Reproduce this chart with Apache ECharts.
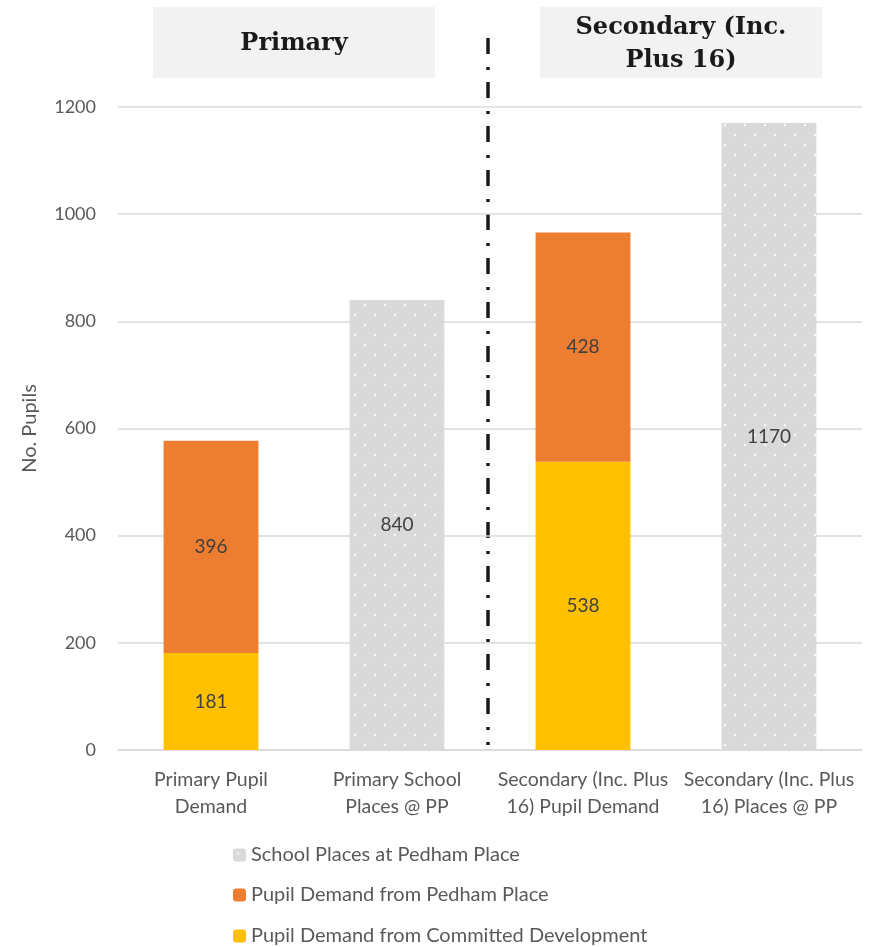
<!DOCTYPE html>
<html lang="en">
<head>
    <meta charset="UTF-8">
    <title>No. Pupils</title>
    <script src="https://cdn.jsdelivr.net/npm/echarts@6/dist/echarts.min.js"></script>
    <style>
        html, body { margin: 0; padding: 0; background: #fff; }
        #chart_main { width: 882px; height: 947px; }
    </style>
</head>
<body>
<div id="chart_main"></div>
<script>
  // 数据
  var categories = ['Primary Pupil\nDemand', 'Primary School\nPlaces @ PP', 'Secondary (Inc. Plus\n16) Pupil Demand', 'Secondary (Inc. Plus\n16) Places @ PP'];
  var committedDev = [181, '-', 538, '-'];
  var pedhamDemand = [396, '-', 428, '-'];
  var schoolPlaces = ['-', 840, '-', 1170];
  var yTicks = [0, 200, 400, 600, 800, 1000, 1200];
  var legendNames = ['School Places at Pedham Place', 'Pupil Demand from Pedham Place', 'Pupil Demand from Committed Development'];

  // 灰色柱子的点状纹理
  function dotPattern() {
    var c = document.createElement('canvas');
    c.width = 20; c.height = 20;
    var ctx = c.getContext('2d');
    ctx.fillStyle = '#d9d9d9';
    ctx.fillRect(0, 0, 20, 20);
    ctx.fillStyle = 'rgba(255,255,255,0.85)';
    ctx.beginPath(); ctx.arc(5, 5, 1.2, 0, Math.PI * 2); ctx.fill();
    ctx.beginPath(); ctx.arc(15, 15, 1.2, 0, Math.PI * 2); ctx.fill();
    return {image: c, repeat: 'repeat'};
  }

  var font = 'Lato, "Open Sans", sans-serif';
  var labelStyle = {show: true, position: 'inside', color: '#404040', fontSize: 19, fontFamily: font};

  // 图例：每项单独一个，竖排
  var legendTops = [840, 880, 921];
  var legends = legendNames.map(function(n, i) {
    return {
      left: 228,
      top: legendTops[i],
      itemWidth: 13,
      itemHeight: 13,
      itemGap: 6,
      data: [n],
      textStyle: {color: '#595959', fontSize: 20, fontFamily: font}
    };
  });

  var myChart = echarts.init(document.getElementById('chart_main'));
  var option = {
    animation: false,
    grid: {left: 118, right: 20, top: 107, bottom: 197},
    legend: legends,
    xAxis: {
      type: 'category',
      data: categories,
      axisTick: {show: false},
      axisLine: {lineStyle: {color: '#d9d9d9', width: 1.5}},
      axisLabel: {color: '#595959', fontSize: 19.5, fontFamily: font, lineHeight: 27, margin: 16, interval: 0}
    },
    yAxis: {
      type: 'value',
      min: yTicks[0],
      max: yTicks[yTicks.length - 1],
      interval: 200,
      name: 'No. Pupils',
      nameLocation: 'middle',
      nameGap: 78,
      nameTextStyle: {color: '#595959', fontSize: 20, fontFamily: font},
      axisLabel: {color: '#595959', fontSize: 18, fontFamily: font, margin: 22, formatter: function(v) { return String(v); }},
      splitLine: {lineStyle: {color: '#d9d9d9', width: 1.5}}
    },
    series: [
      {
        name: 'Pupil Demand from Committed Development',
        type: 'bar',
        stack: 'a',
        barWidth: '51%',
        data: committedDev,
        itemStyle: {color: '#ffc000'},
        label: labelStyle
      },
      {
        name: 'Pupil Demand from Pedham Place',
        type: 'bar',
        stack: 'a',
        data: pedhamDemand,
        itemStyle: {color: '#ed7d31'},
        label: labelStyle
      },
      {
        name: 'School Places at Pedham Place',
        type: 'bar',
        stack: 'a',
        data: schoolPlaces,
        itemStyle: {color: dotPattern()},
        label: labelStyle
      }
    ],
    graphic: [
      {type: 'rect', shape: {x: 153, y: 7, width: 282, height: 71}, style: {fill: '#f2f2f2'}},
      {type: 'rect', shape: {x: 540, y: 7, width: 282, height: 71}, style: {fill: '#f2f2f2'}},
      {type: 'text', x: 294, y: 44, style: {text: 'Primary', font: 'bold 24px "DejaVu Serif", serif', fill: '#1a1a1a', align: 'center', verticalAlign: 'middle'}},
      {type: 'text', x: 681, y: 44, style: {text: 'Secondary (Inc.\nPlus 16)', font: 'bold 24px "DejaVu Serif", serif', fill: '#1a1a1a', align: 'center', verticalAlign: 'middle', lineHeight: 33}},
      {type: 'line', shape: {x1: 488, y1: 38, x2: 488, y2: 745}, style: {stroke: '#1a1a1a', lineWidth: 3.5, lineDash: [16, 13, 3, 12]}}
    ]
  };
  myChart.setOption(option);
</script>
</body>
</html>
